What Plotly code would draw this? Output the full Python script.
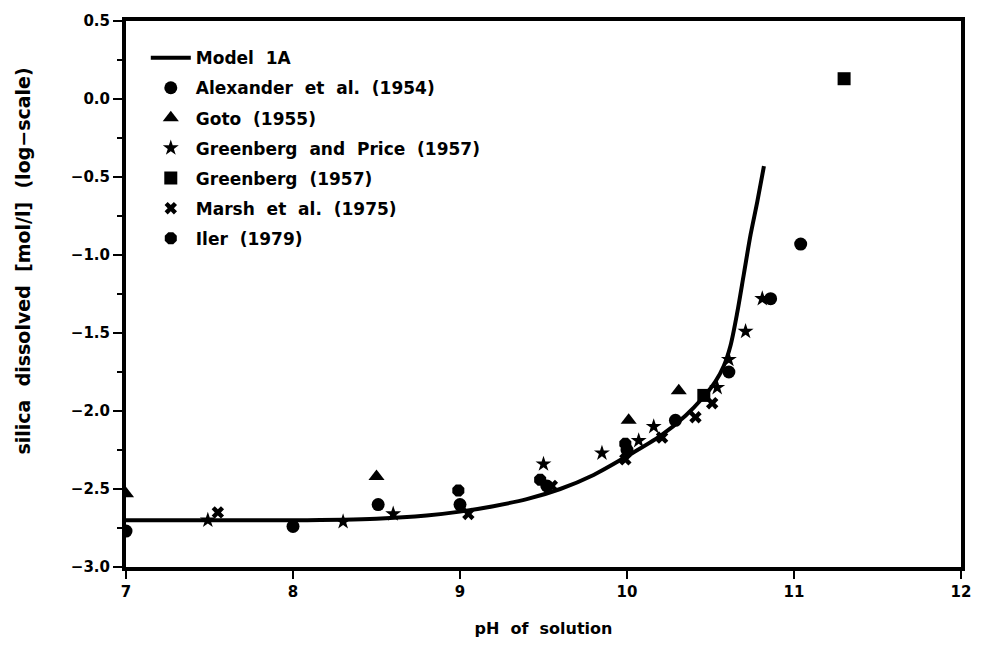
import plotly.graph_objects as go

# Model curve
model_x = [7.0, 7.5, 8.0, 8.5, 8.8, 9.0, 9.2, 9.4, 9.6, 9.8, 10.0, 10.2, 10.35, 10.45, 10.53, 10.58, 10.62, 10.66, 10.70, 10.74, 10.78, 10.82]
model_y = [-2.70, -2.70, -2.70, -2.69, -2.67, -2.645, -2.61, -2.565, -2.50, -2.41, -2.29, -2.16, -2.03, -1.92, -1.81, -1.71, -1.58, -1.37, -1.12, -0.87, -0.66, -0.43]

alex_x = [7.0, 8.0, 8.51, 9.0, 9.52, 10.0, 10.29, 10.61, 10.86, 11.04]
alex_y = [-2.77, -2.74, -2.60, -2.60, -2.48, -2.25, -2.06, -1.75, -1.28, -0.93]

goto_x = [7.0, 8.50, 10.01, 10.31]
goto_y = [-2.53, -2.42, -2.06, -1.87]

gp_x = [7.49, 8.30, 8.60, 9.50, 9.85, 10.07, 10.16, 10.54, 10.61, 10.71, 10.81]
gp_y = [-2.70, -2.71, -2.66, -2.34, -2.27, -2.19, -2.10, -1.85, -1.67, -1.49, -1.28]

gb_x = [10.46, 11.30]
gb_y = [-1.90, 0.13]

marsh_x = [7.55, 9.05, 9.55, 9.99, 10.21, 10.41, 10.51]
marsh_y = [-2.65, -2.66, -2.48, -2.31, -2.17, -2.04, -1.95]

iler_x = [8.99, 9.48, 9.99]
iler_y = [-2.51, -2.44, -2.21]

x_ticks = [7, 8, 9, 10, 11, 12]
y_ticks = [0.5, 0.0, -0.5, -1.0, -1.5, -2.0, -2.5, -3.0]

FONT = "DejaVu Sans"
fig = go.Figure()

fig.add_trace(go.Scatter(x=model_x, y=model_y, mode="lines", name="Model  1A",
                         line=dict(color="black", width=4, shape="spline", smoothing=0.8),
                         legendgroup="a"))

def pts(x, y, name, symbol, size, g):
    fig.add_trace(go.Scatter(x=x, y=y, mode="markers", name=name, legendgroup=g,
                             marker=dict(symbol=symbol, size=size, color="black",
                                         line=dict(width=0))))

pts(alex_x, alex_y, "Alexander  et  al.  (1954)", "circle", 13, "b")
pts(goto_x, goto_y, "Goto  (1955)", "triangle-up", 14, "c")
pts(gp_x, gp_y, "Greenberg  and  Price  (1957)", "star", 12, "d")
pts(gb_x, gb_y, "Greenberg  (1957)", "square", 13, "e")
pts(marsh_x, marsh_y, "Marsh  et  al.  (1975)", "x", 11, "f")
pts(iler_x, iler_y, "Iler  (1979)", "octagon", 13, "g")

tickfont = dict(family=FONT, size=15, color="black", weight="bold")

fig.update_layout(
    width=983, height=652,
    margin=dict(l=126, r=12, t=19, b=85),
    paper_bgcolor="white", plot_bgcolor="white",
    font=dict(family=FONT, color="black"),
    showlegend=True,
    legend=dict(x=0.0237, y=0.965, xanchor="left", yanchor="top",
                bgcolor="rgba(0,0,0,0)", borderwidth=0,
                font=dict(family=FONT, size=17, color="black", weight="bold"),
                tracegroupgap=5, itemwidth=40),
    xaxis=dict(range=[7, 12], tickvals=x_ticks, ticktext=[str(t) for t in x_ticks],
               showgrid=False, zeroline=False,
               showline=True, linecolor="black", linewidth=4, mirror=True,
               ticks="outside", ticklen=8, tickwidth=2, tickcolor="black",
               tickfont=tickfont,
               title=dict(text="pH  of  solution", standoff=24,
                          font=dict(family=FONT, size=16, color="black", weight="bold"))),
    yaxis=dict(range=[-3.0, 0.5], tickvals=y_ticks,
               ticktext=["%.1f" % t if t >= 0 else "\u2212%.1f" % abs(t) for t in y_ticks],
               showgrid=False, zeroline=False,
               showline=True, linecolor="black", linewidth=4, mirror=True,
               ticks="outside", ticklen=9, tickwidth=2, tickcolor="black",
               tickfont=tickfont,
               minor=dict(dtick=0.25, tick0=0, ticks="outside", ticklen=5, tickwidth=2,
                          tickcolor="black", showgrid=False)),
    annotations=[dict(text="silica  dissolved  [mol/l]  (log\u2212scale)", textangle=-90,
                      xref="paper", yref="paper", x=-0.123, y=0.56,
                      xanchor="center", yanchor="middle", showarrow=False,
                      font=dict(family=FONT, size=19, color="black", weight="bold"))],
)

fig.write_html("out.html")
